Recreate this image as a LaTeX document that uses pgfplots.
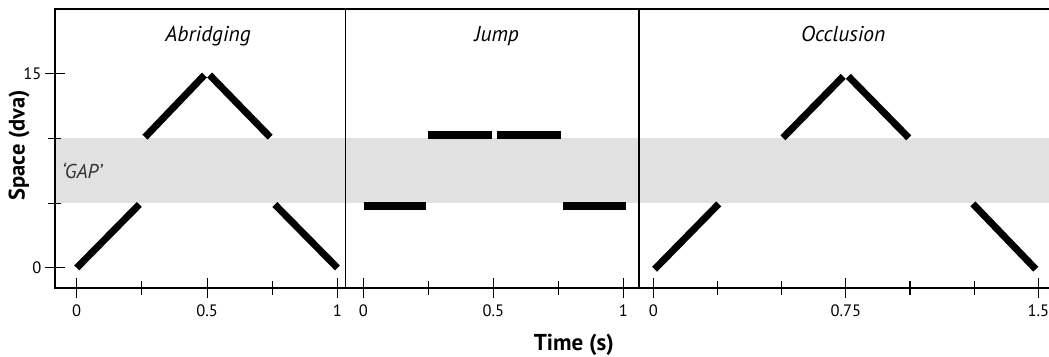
\documentclass[border=0pt]{standalone}
\usepackage{fontspec}
\setmainfont{PT Sans}
\usepackage{pgfplots}
\pgfplotsset{compat=1.18}
\definecolor{gapgray}{RGB}{225,225,225}
\definecolor{gaptext}{RGB}{50,50,50}
\newcommand\tl{\fontsize{16.5}{18}\selectfont}
\tikzset{ttl/.style={font=\fontsize{21.5}{25}\selectfont\itshape, anchor=base}}
\pgfplotsset{
  panel/.style={
    scale only axis, height=279pt, ymin=-1.55, ymax=20,
    anchor=south west, axis on top,
    axis line style={line width=1.2pt, black},
    tick align=center, tick pos=left,
    major tick length=20pt, minor tick length=13pt,
    tick style={line width=1.1pt, black},
    xticklabel style={font=\tl, yshift=-3pt},
    yticklabel style={font=\tl},
    ytick=\empty, clip=false,
  },
  seg/.style={black, line width=7pt, line cap=butt, no marks, forget plot},
  bar/.style={black, line width=8pt, line cap=butt, no marks, forget plot},
  band/.style={draw=none, fill=gapgray, forget plot},
}
\begin{document}
\begin{tikzpicture}[x=1pt,y=1pt]
\path[use as bounding box] (0,0) rectangle (1049,356);
% Panel 1: Abridging
\begin{axis}[panel, at={(55pt,68pt)}, width=290.5pt,
  xmin=-0.08324, xmax=1.03107,
  xtick={0,0.5,1}, xticklabels={\tl 0,\tl 0.5,\tl 1}, minor xtick={0.25,0.75},
  ytick={0,15}, yticklabels={\tl 0,\tl 15}, minor ytick={5,10},
  ylabel={Space (dva)},
  ylabel style={at={(axis description cs:-0.124,0.5125)}, anchor=center,
    font=\fontsize{22.5}{25}\selectfont\bfseries},
]
\addplot[band] coordinates {(-0.08324,5) (1.03107,5) (1.03107,10) (-0.08324,10)} -- cycle;
\addplot[seg] coordinates {(0,0) (0.24,4.9)};
\addplot[seg] coordinates {(0.262,10.1) (0.49,14.9)};
\addplot[seg] coordinates {(0.51,14.9) (0.742,10.1)};
\addplot[seg] coordinates {(0.76,4.9) (1.0,0)};
\node[ttl] at (axis cs:0.504,17.5) {Abridging};
\node[font=\fontsize{20}{23}\selectfont\itshape, text=gaptext, anchor=base west, inner sep=0pt] at (axis cs:-0.0575,6.93) {‘GAP’};
\end{axis}
% Panel 2: Jump
\begin{axis}[panel, at={(345.5pt,68pt)}, width=293.5pt,
  xmin=-0.06846, xmax=1.06038,
  xtick={0,0.5,1}, xticklabels={\tl 0,\tl 0.5,\tl 1}, minor xtick={0.25,0.75},
  xlabel={Time (s)},
  xlabel style={at={(axis description cs:0.778,-0.2258)}, anchor=base, inner sep=0pt,
    font=\fontsize{23}{26}\selectfont\bfseries},
]
\addplot[band] coordinates {(-0.06846,5) (1.06038,5) (1.06038,10) (-0.06846,10)} -- cycle;
\addplot[bar] coordinates {(0.003,4.8) (0.24,4.8)};
\addplot[bar] coordinates {(0.25,10.3) (0.496,10.3)};
\addplot[bar] coordinates {(0.515,10.3) (0.761,10.3)};
\addplot[bar] coordinates {(0.769,4.8) (1.01,4.8)};
\node[ttl] at (axis cs:0.513,17.5) {Jump};
\end{axis}
% Panel 3: Occlusion
\begin{axis}[panel, at={(639pt,68pt)}, width=410pt,
  xmin=-0.05571, xmax=1.54149,
  axis x line=box, axis y line=left,
  axis line style={-},
  every outer y axis line/.append style={-},
  every inner y axis line/.append style={-},
  xtick={0,0.75,1.5}, xticklabels={\tl 0,\tl 0.75,\tl 1.5},
  minor xtick={0.25,0.5,1,1.25},
]
\addplot[band] coordinates {(-0.05571,5) (1.54149,5) (1.54149,10) (-0.05571,10)} -- cycle;
\addplot[seg] coordinates {(0.005,-0.1) (0.255,4.95)};
\addplot[seg] coordinates {(0.505,10.05) (0.74,14.8)};
\addplot[seg] coordinates {(0.76,14.8) (0.995,10.05)};
\addplot[seg] coordinates {(1.245,4.95) (1.49,-0.1)};
\node[ttl] at (axis cs:0.74,17.5) {Occlusion};
\end{axis}
\end{tikzpicture}
\end{document}
